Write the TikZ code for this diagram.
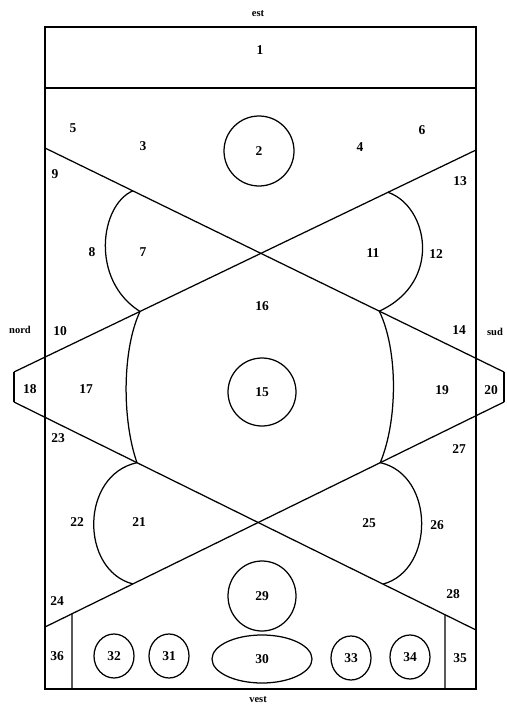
\documentclass[tikz,border=0pt]{standalone}
\usepackage{fontspec}
\setmainfont{Liberation Serif}
\usetikzlibrary{calc,shapes.geometric}
\begin{document}
\begin{tikzpicture}[x=1pt,y=-1pt,line width=1.25pt,
  lab/.style={font=\fontsize{13.5}{15}\selectfont\bfseries,inner sep=0pt},
  side/.style={font=\fontsize{10.5}{12}\selectfont\bfseries,inner sep=0pt},
  ring/.style={draw,ellipse,inner sep=0pt,font=\fontsize{13.5}{15}\selectfont\bfseries},
  frame/.style={line width=1.6pt}]
\useasboundingbox (0,0) rectangle (506,706);
% main lines
\coordinate (A1) at (45,148);  \coordinate (A2) at (504,372);
\coordinate (B1) at (476,150); \coordinate (B2) at (14,372);
\coordinate (C1) at (14,402);  \coordinate (C2) at (476,630);
\coordinate (D1) at (504,402); \coordinate (D2) at (45,627);
% frame
\draw[frame] (45,27) rectangle (476,689);
\draw[frame] (45,88) -- (476,88);
% crossing lines with side trapezoids
\draw (A1) -- (A2);
\draw[line width=1.8pt] (A2) -- (D1);
\draw (D1) -- (D2);
\draw (B1) -- (B2);
\draw[line width=1.8pt] (B2) -- (C1);
\draw (C1) -- (C2);
% points on lines
\coordinate (p7a) at ($(A1)!0.1913!(A2)$);
\coordinate (p7b) at ($(B1)!0.7273!(B2)$);
\coordinate (p11a) at ($(B1)!0.1905!(B2)$);
\coordinate (p11b) at ($(A1)!0.7283!(A2)$);
\coordinate (p21a) at ($(C1)!0.2662!(C2)$);
\coordinate (p21b) at ($(D1)!0.8087!(D2)$);
\coordinate (p25a) at ($(D1)!0.2696!(D2)$);
\coordinate (p25b) at ($(C1)!0.7987!(C2)$);
\coordinate (vl) at ($(D1)!0.9413!(D2)$);
\coordinate (vr) at ($(C1)!0.9329!(C2)$);
\coordinate (vlb) at (72,689);
\coordinate (vrb) at (445,689);
% arcs
\draw (p7a) .. controls (100,205) and (90,280) .. (p7b);
\draw (p11a) .. controls (428,206) and (443,282) .. (p11b);
\draw (p21a) .. controls (80,475) and (80,570) .. (p21b);
\draw (p25a) .. controls (435,475) and (435,570) .. (p25b);
\draw (p7b) .. controls (122,350) and (122,420) .. (p21a);
\draw (p11b) .. controls (398,350) and (398,420) .. (p25a);
% bottom verticals
\draw (vl) -- (vlb);
\draw (vr) -- (vrb);
% circles
\node[ring,minimum width=70pt,minimum height=70pt] (c2) at (259,151) {2};
\node[ring,minimum width=68pt,minimum height=68pt] (c15) at (262,392) {15};
\node[ring,minimum width=68pt,minimum height=70pt] (c29) at (262,596) {29};
\node[ring,minimum width=100pt,minimum height=48pt] (c30) at (262,659) {30};
\node[ring,minimum width=40pt,minimum height=44pt] (c32) at (114,656) {32};
\node[ring,minimum width=40pt,minimum height=44pt] (c31) at (169,656) {31};
\node[ring,minimum width=40pt,minimum height=44pt] (c33) at (351,658) {33};
\node[ring,minimum width=40pt,minimum height=44pt] (c34) at (410,657) {34};
% labels
\node[side] (est) at (258,14) {est};
\node[side] (vest) at (258,700) {vest};
\node[side] (nord) at (20,330) {nord};
\node[side] (sud) at (495,332) {sud};
\node[lab] (r1) at (260,50) {1};
\node[lab] (r3) at (143,146) {3};
\node[lab] (r4) at (360,147) {4};
\node[lab] (r5) at (73,128) {5};
\node[lab] (r6) at (422,130) {6};
\node[lab] (r7) at (143,252) {7};
\node[lab] (r8) at (92,252) {8};
\node[lab] (r9) at (55,174) {9};
\node[lab] (r10) at (60,331) {10};
\node[lab] (r11) at (373,253) {11};
\node[lab] (r12) at (436,254) {12};
\node[lab] (r13) at (460,181) {13};
\node[lab] (r14) at (459,330) {14};
\node[lab] (r16) at (262,306) {16};
\node[lab] (r17) at (86,389) {17};
\node[lab] (r18) at (30,389) {18};
\node[lab] (r19) at (442,390) {19};
\node[lab] (r20) at (491,390) {20};
\node[lab] (r21) at (139,522) {21};
\node[lab] (r22) at (77,522) {22};
\node[lab] (r23) at (58,438) {23};
\node[lab] (r24) at (57,601) {24};
\node[lab] (r25) at (369,523) {25};
\node[lab] (r26) at (437,525) {26};
\node[lab] (r27) at (459,449) {27};
\node[lab] (r28) at (453,594) {28};
\node[lab] (r35) at (460,658) {35};
\node[lab] (r36) at (57,656) {36};
\end{tikzpicture}
\end{document}
